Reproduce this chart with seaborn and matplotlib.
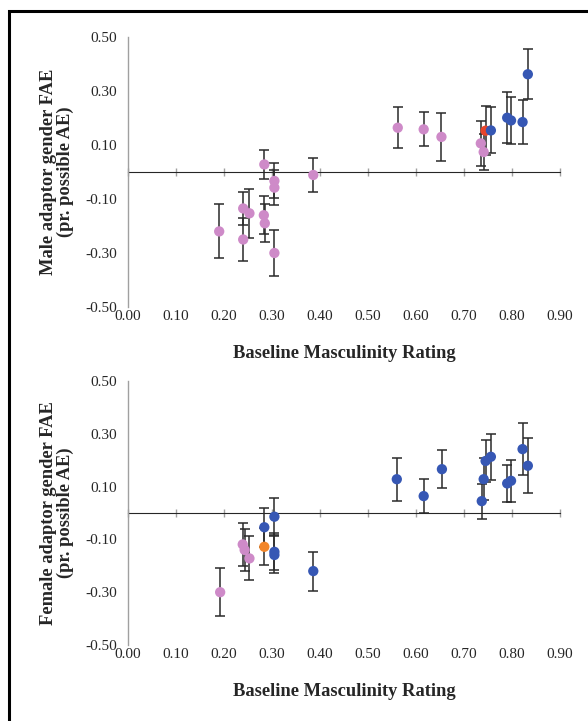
import pandas as pd
import matplotlib.pyplot as plt
import seaborn as sns


# top panel: male adaptor
male_x = [0.19, 0.24, 0.24, 0.253, 0.284, 0.283, 0.285, 0.305, 0.305, 0.305, 0.386,
          0.562, 0.616, 0.653, 0.735, 0.741, 0.745, 0.756, 0.79, 0.798, 0.822, 0.833]
male_y = [-0.22, -0.135, -0.25, -0.153, 0.028, -0.16, -0.19, -0.033, -0.058, -0.30, -0.011,
          0.164, 0.158, 0.13, 0.106, 0.074, 0.153, 0.154, 0.201, 0.191, 0.185, 0.362]
male_err = [0.10, 0.06, 0.08, 0.09, 0.055, 0.07, 0.07, 0.065, 0.065, 0.085, 0.064,
            0.076, 0.063, 0.09, 0.083, 0.067, 0.09, 0.085, 0.095, 0.088, 0.083, 0.093]
male_grp = ['pink'] * 16 + ['red'] + ['blue'] * 5

# bottom panel: female adaptor
female_x = [0.192, 0.239, 0.243, 0.253, 0.284, 0.284, 0.305, 0.305, 0.305, 0.386,
            0.56, 0.616, 0.654, 0.737, 0.741, 0.745, 0.756, 0.79, 0.798, 0.822, 0.833]
female_y = [-0.30, -0.119, -0.14, -0.172, -0.054, -0.128, -0.014, -0.147, -0.159, -0.22,
            0.128, 0.064, 0.166, 0.045, 0.128, 0.197, 0.213, 0.112, 0.122, 0.242, 0.179]
female_err = [0.091, 0.08, 0.08, 0.083, 0.074, 0.07, 0.07, 0.07, 0.07, 0.074,
              0.081, 0.065, 0.073, 0.066, 0.08, 0.08, 0.087, 0.071, 0.08, 0.099, 0.104]
female_grp = ['pink'] * 4 + ['blue', 'orange'] + ['blue'] * 15

x_ticks = [0.0, 0.1, 0.2, 0.3, 0.4, 0.5, 0.6, 0.7, 0.8, 0.9]
y_ticks = [0.5, 0.3, 0.1, -0.1, -0.3, -0.5]

palette = {'pink': '#CE8AC8', 'blue': '#3657B4', 'red': '#E8452C', 'orange': '#F2862A'}

sns.set_style('white')
plt.rcParams['font.family'] = ['Liberation Serif', 'DejaVu Serif']

fig = plt.figure(figsize=(5.88, 7.21), dpi=100)
ax_top = fig.add_axes([128 / 588, 1 - 307 / 721, 432 / 588, 270 / 721])
ax_bot = fig.add_axes([128 / 588, 1 - 645 / 721, 432 / 588, 264 / 721])

panels = [
    (ax_top, male_x, male_y, male_err, male_grp, 'Male adaptor gender FAE\n(pr. possible AE)'),
    (ax_bot, female_x, female_y, female_err, female_grp, 'Female adaptor gender FAE\n(pr. possible AE)'),
]

for ax, xs, ys, errs, grps, ylab in panels:
    df = pd.DataFrame({'x': xs, 'y': ys, 'err': errs, 'grp': grps})
    ax.errorbar(df['x'], df['y'], yerr=df['err'], fmt='none', ecolor='#2a2a2a',
                elinewidth=1.1, capsize=3.5, capthick=1.1, zorder=2)
    sns.scatterplot(data=df, x='x', y='y', hue='grp', palette=palette, s=55,
                    edgecolor='none', legend=False, ax=ax, zorder=3)

    ax.set_xlim(0, 0.9)
    ax.set_ylim(-0.5, 0.5)
    ax.set_xticks(x_ticks)
    ax.set_xticklabels([f'{t:.2f}' for t in x_ticks])
    ax.set_yticks(y_ticks)
    ax.set_yticklabels([f'{t:.2f}' for t in y_ticks])
    ax.tick_params(axis='both', length=0, labelsize=11)
    ax.tick_params(axis='x', pad=2)
    ax.tick_params(axis='y', pad=8)

    for s in ['top', 'right', 'bottom']:
        ax.spines[s].set_visible(False)
    ax.spines['left'].set_color('#a0a0a0')
    ax.spines['left'].set_linewidth(1)

    # horizontal axis crossing at zero with cross tick marks
    zero_ax = ax.secondary_xaxis(0.5)
    zero_ax.set_xticks(x_ticks)
    zero_ax.set_xticklabels([])
    zero_ax.tick_params(direction='inout', length=6, width=1, color='#a0a0a0',
                        labelbottom=False, labeltop=False)
    zero_ax.spines['bottom'].set_color('#a0a0a0')
    zero_ax.spines['bottom'].set_linewidth(1)

    ax.set_xlabel('Baseline Masculinity Rating', fontsize=13.3, weight='bold', labelpad=16)
    ax.set_ylabel(ylab, fontsize=13.3, weight='bold', labelpad=8, linespacing=1.0)

# outer frame
fig.add_artist(plt.Rectangle((9 / 588, -0.1), 1.2, 1.1 - 11 / 721, transform=fig.transFigure,
                             fill=False, edgecolor='black', linewidth=2.2))

plt.savefig('out.png', dpi=100)
